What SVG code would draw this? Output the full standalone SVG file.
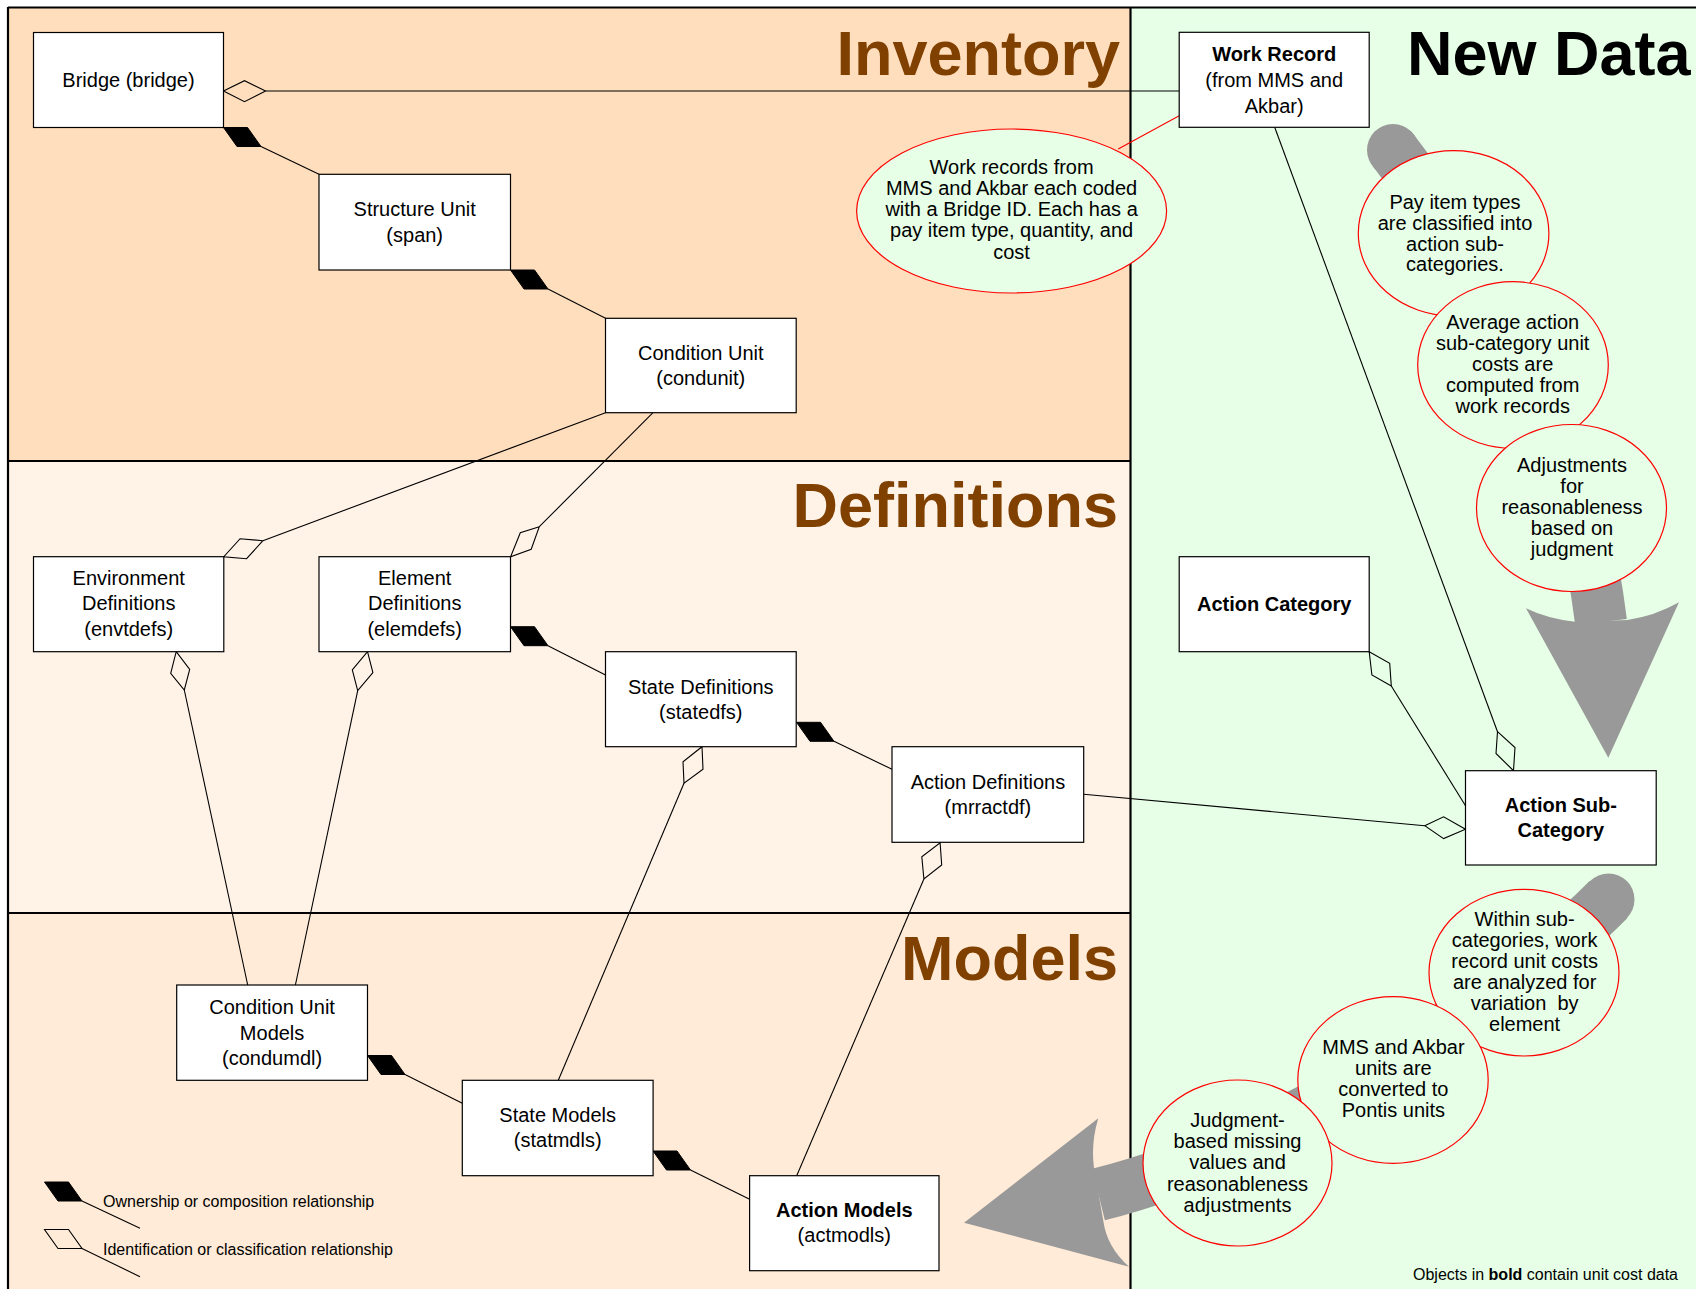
<svg xmlns="http://www.w3.org/2000/svg" xmlns:xlink="http://www.w3.org/1999/xlink" width="1696" height="1289" viewBox="0 0 1696 1289">
  <defs>
    <style>
      .box { fill: #ffffff; stroke: #000000; stroke-width: 1.2; }
      .lbl { font-family: "Liberation Sans", Arial, sans-serif; font-size: 20px; text-anchor: middle; fill: #000000; }
      .b { font-weight: bold; }
      .conn { stroke: #000000; stroke-width: 1.1; fill: none; }
      .red { stroke: #ff0000; stroke-width: 1.1; fill: none; }
      .own { fill: #000000; stroke: #000000; stroke-width: 1; }
      .ident { fill: none; stroke: #000000; stroke-width: 1.1; stroke-linejoin: miter; }
      .note { fill: #e6ffe6; stroke: #ff0000; stroke-width: 1.2; }
      .title { font-family: "Liberation Sans", Arial, sans-serif; font-weight: bold; font-size: 63px; }
      .legend { font-family: "Liberation Sans", Arial, sans-serif; font-size: 16px; fill: #000000; }
      .flow { fill: #999999; }
      .band { stroke: #999999; fill: none; stroke-linecap: butt; }
      .rule { stroke: #000000; stroke-width: 2.2; fill: none; }
    </style>
    <!-- filled diamond: ownership / composition -->
    <path id="ownDiamond" d="M0,0 L24,0 L37.5,19 L13.5,19 Z"/>
  </defs>

  <!-- swimlane backgrounds -->
  <rect x="0" y="0" width="1696" height="1289" fill="#ffffff"/>
  <rect x="8" y="7" width="1123" height="454" fill="#ffdebd"/>
  <rect x="8" y="461" width="1123" height="452" fill="#fff3e8"/>
  <rect x="8" y="913" width="1123" height="376" fill="#ffebd7"/>
  <rect x="1131" y="7" width="565" height="1282" fill="#e6ffe6"/>

  <!-- lane borders -->
  <g id="lanes">
    <line class="rule" x1="8" y1="7.5" x2="1696" y2="7.5"/>
    <line class="rule" x1="8" y1="7" x2="8" y2="1289"/>
    <line class="rule" x1="1130.5" y1="7" x2="1130.5" y2="1289"/>
    <line class="rule" x1="8" y1="461" x2="1130.5" y2="461"/>
    <line class="rule" x1="8" y1="913" x2="1130.5" y2="913"/>
  </g>

  <!-- lane titles -->
  <g id="titles">
    <text class="title" x="1120" y="75" text-anchor="end" fill="#804000">Inventory</text>
    <text class="title" x="1118" y="527" text-anchor="end" fill="#804000">Definitions</text>
    <text class="title" x="1118" y="980" text-anchor="end" fill="#804000">Models</text>
    <text class="title" x="1407" y="75" fill="#000000">New Data</text>
  </g>

  <!-- relationships -->
  <g id="connectors">
    <!-- Bridge - Work Record -->
    <polygon class="ident" points="223.5,91 244.5,80.7 265.6,91 244.5,101.7"/>
    <line class="conn" x1="265.6" y1="91" x2="1179" y2="91"/>
    <!-- Bridge owns Structure Unit -->
    <use href="#ownDiamond" class="own" x="223.5" y="127.5"/>
    <line class="conn" x1="261" y1="146.5" x2="319" y2="174.3"/>
    <!-- Structure Unit owns Condition Unit -->
    <use href="#ownDiamond" class="own" x="510.5" y="270"/>
    <line class="conn" x1="548" y1="289" x2="605.5" y2="318.3"/>
    <!-- Condition Unit - Environment Definitions -->
    <line class="conn" x1="605.5" y1="412.7" x2="262.9" y2="540.7"/>
    <polygon class="ident" points="262.9,540.7 240.1,538.7 223.8,556.7 246.6,558.7"/>
    <!-- Condition Unit - Element Definitions -->
    <line class="conn" x1="653" y1="412.7" x2="539.3" y2="526.7"/>
    <polygon class="ident" points="539.3,526.7 520.3,532.7 510.6,556.7 531.2,549.3"/>
    <!-- Element Definitions owns State Definitions -->
    <use href="#ownDiamond" class="own" x="510.5" y="626.7"/>
    <line class="conn" x1="548" y1="645.7" x2="605.5" y2="675"/>
    <!-- State Definitions owns Action Definitions -->
    <use href="#ownDiamond" class="own" x="796.5" y="722.3"/>
    <line class="conn" x1="834" y1="741.3" x2="892" y2="769.3"/>
    <!-- Environment Definitions - Condition Unit Models -->
    <polygon class="ident" points="176.2,651.7 189.7,669.3 184.3,690 170.7,673.3"/>
    <line class="conn" x1="184.3" y1="690" x2="247.7" y2="985"/>
    <!-- Element Definitions - Condition Unit Models -->
    <polygon class="ident" points="367.5,651.7 372.9,672.7 357.7,690.7 352.3,670"/>
    <line class="conn" x1="357.7" y1="690.7" x2="295.4" y2="985"/>
    <!-- State Definitions - State Models -->
    <polygon class="ident" points="702,746.7 703,769.3 684,783.3 683,761.7"/>
    <line class="conn" x1="684" y1="783.3" x2="558.3" y2="1080.3"/>
    <!-- Action Definitions - Action Models -->
    <polygon class="ident" points="940.1,842.7 941.7,865 923.9,879 921.8,856.7"/>
    <line class="conn" x1="923.9" y1="879" x2="796.7" y2="1175.7"/>
    <!-- Condition Unit Models owns State Models -->
    <use href="#ownDiamond" class="own" x="367.5" y="1055.5"/>
    <line class="conn" x1="405" y1="1074.5" x2="462.3" y2="1103.3"/>
    <!-- State Models owns Action Models -->
    <use href="#ownDiamond" class="own" x="653" y="1151"/>
    <line class="conn" x1="690.5" y1="1170" x2="749.6" y2="1199.3"/>
    <!-- Action Category - Action Sub-Category -->
    <polygon class="ident" points="1369.2,651.7 1389.7,663.3 1391.3,686 1371.9,675"/>
    <line class="conn" x1="1391.3" y1="686" x2="1465.5" y2="805.7"/>
    <!-- Work Record - Action Sub-Category -->
    <line class="conn" x1="1274.7" y1="127.3" x2="1497.5" y2="731.7"/>
    <polygon class="ident" points="1497.5,731.7 1515,747.5 1513.5,770.7 1496,753.5"/>
    <!-- Action Definitions - Action Sub-Category -->
    <line class="conn" x1="1083.7" y1="794.3" x2="1424.7" y2="825.7"/>
    <polygon class="ident" points="1424.7,825.7 1443.6,816.8 1465.5,829.3 1443.6,838.6"/>
    <!-- Work Record callout pointer -->
    <line class="red" x1="1179.2" y1="115.7" x2="1118.2" y2="149"/>
  </g>

  <!-- process flow arrows -->
  <g id="flow-down">
    <circle class="flow" cx="1393" cy="150" r="26"/>
    <path class="band" stroke-width="52" d="M1393,150 C1470,250 1577,420 1601,622"/>
    <path class="flow" d="M1575,621.7 Q1548,619 1526,608.3 L1608.3,757.7 L1679,602.3 Q1655,616 1627.3,620 Z"/>
  </g>
  <g id="flow-left">
    <circle class="flow" cx="1608.5" cy="899.5" r="26"/>
    <path class="band" stroke-width="53" d="M1608.5,899.5 C1520,990 1292.5,1146.5 1098.5,1194.5"/>
    <path class="flow" d="M1094,1168 Q1090.7,1143.3 1098.3,1118.3 L964,1222.7 L1129,1266.7 Q1106.7,1246.7 1103.3,1220.7 Z"/>
  </g>

  <!-- callout notes -->
  <g id="note-work-records">
    <ellipse class="note" cx="1011.6" cy="211" rx="155" ry="82"/>
    <text class="lbl" x="1011.6" y="173.7">Work records from</text>
    <text class="lbl" x="1011.6" y="194.9">MMS and Akbar each coded</text>
    <text class="lbl" x="1011.6" y="216.1">with a Bridge ID. Each has a</text>
    <text class="lbl" x="1011.6" y="237.3">pay item type, quantity, and</text>
    <text class="lbl" x="1011.6" y="258.5">cost</text>
  </g>
  <g id="note-pay-items">
    <ellipse class="note" cx="1453.6" cy="233.3" rx="95.3" ry="82.7"/>
    <text class="lbl" x="1455" y="208.7">Pay item types</text>
    <text class="lbl" x="1455" y="229.6">are classified into</text>
    <text class="lbl" x="1455" y="250.5">action sub-</text>
    <text class="lbl" x="1455" y="271.4">categories.</text>
  </g>
  <g id="note-average">
    <ellipse class="note" cx="1513" cy="365" rx="95.3" ry="83.3"/>
    <text class="lbl" x="1512.7" y="328.7">Average action</text>
    <text class="lbl" x="1512.7" y="349.8">sub-category unit</text>
    <text class="lbl" x="1512.7" y="370.9">costs are</text>
    <text class="lbl" x="1512.7" y="392">computed from</text>
    <text class="lbl" x="1512.7" y="413.1">work records</text>
  </g>
  <g id="note-adjustments">
    <ellipse class="note" cx="1571.5" cy="508" rx="95" ry="83.5"/>
    <text class="lbl" x="1572" y="472">Adjustments</text>
    <text class="lbl" x="1572" y="493.1">for</text>
    <text class="lbl" x="1572" y="514.2">reasonableness</text>
    <text class="lbl" x="1572" y="535.3">based on</text>
    <text class="lbl" x="1572" y="556.4">judgment</text>
  </g>
  <g id="note-variation">
    <ellipse class="note" cx="1524" cy="972.7" rx="95" ry="83.3"/>
    <text class="lbl" x="1524.6" y="926.3">Within sub-</text>
    <text class="lbl" x="1524.6" y="947.2">categories, work</text>
    <text class="lbl" x="1524.6" y="968.1">record unit costs</text>
    <text class="lbl" x="1524.6" y="989">are analyzed for</text>
    <text class="lbl" x="1524.6" y="1009.9" xml:space="preserve">variation  by</text>
    <text class="lbl" x="1524.6" y="1030.8">element</text>
  </g>
  <g id="note-units">
    <ellipse class="note" cx="1393" cy="1080" rx="95.2" ry="83.3"/>
    <text class="lbl" x="1393.4" y="1053.7">MMS and Akbar</text>
    <text class="lbl" x="1393.4" y="1074.9">units are</text>
    <text class="lbl" x="1393.4" y="1096.1">converted to</text>
    <text class="lbl" x="1393.4" y="1117.3">Pontis units</text>
  </g>
  <g id="note-judgment">
    <ellipse class="note" cx="1237.5" cy="1163" rx="94.5" ry="83"/>
    <text class="lbl" x="1237.5" y="1127">Judgment-</text>
    <text class="lbl" x="1237.5" y="1148.2">based missing</text>
    <text class="lbl" x="1237.5" y="1169.4">values and</text>
    <text class="lbl" x="1237.5" y="1190.6">reasonableness</text>
    <text class="lbl" x="1237.5" y="1211.8">adjustments</text>
  </g>

  <!-- entities -->
  <g id="bridge">
    <rect class="box" x="33.5" y="32.5" width="190" height="95"/>
    <text class="lbl" x="128.5" y="87">Bridge (bridge)</text>
  </g>
  <g id="structure-unit">
    <rect class="box" x="319" y="174.3" width="191.5" height="95.7"/>
    <text class="lbl" x="414.7" y="216.3">Structure Unit</text>
    <text class="lbl" x="414.7" y="241.7">(span)</text>
  </g>
  <g id="condition-unit">
    <rect class="box" x="605.5" y="318.3" width="190.7" height="94.4"/>
    <text class="lbl" x="700.8" y="359.8">Condition Unit</text>
    <text class="lbl" x="700.8" y="385.2">(condunit)</text>
  </g>
  <g id="work-record">
    <rect class="box" x="1179.2" y="32.3" width="190" height="95"/>
    <text class="lbl b" x="1274.2" y="60.5">Work Record</text>
    <text class="lbl" x="1274.2" y="86.5">(from MMS and</text>
    <text class="lbl" x="1274.2" y="112.5">Akbar)</text>
  </g>
  <g id="environment-definitions">
    <rect class="box" x="33.5" y="556.7" width="190.3" height="95"/>
    <text class="lbl" x="128.7" y="585">Environment</text>
    <text class="lbl" x="128.7" y="610.3">Definitions</text>
    <text class="lbl" x="128.7" y="635.6">(envtdefs)</text>
  </g>
  <g id="element-definitions">
    <rect class="box" x="319" y="556.7" width="191.5" height="95"/>
    <text class="lbl" x="414.7" y="585">Element</text>
    <text class="lbl" x="414.7" y="610.3">Definitions</text>
    <text class="lbl" x="414.7" y="635.6">(elemdefs)</text>
  </g>
  <g id="state-definitions">
    <rect class="box" x="605.5" y="651.7" width="190.7" height="95"/>
    <text class="lbl" x="700.8" y="693.7">State Definitions</text>
    <text class="lbl" x="700.8" y="718.9">(statedfs)</text>
  </g>
  <g id="action-definitions">
    <rect class="box" x="892" y="746.7" width="191.7" height="95.6"/>
    <text class="lbl" x="987.9" y="788.7">Action Definitions</text>
    <text class="lbl" x="987.9" y="814.3">(mrractdf)</text>
  </g>
  <g id="action-category">
    <rect class="box" x="1179.2" y="556.7" width="190" height="95"/>
    <text class="lbl b" x="1274.2" y="611">Action Category</text>
  </g>
  <g id="action-sub-category">
    <rect class="box" x="1465.5" y="770.7" width="190.7" height="94.3"/>
    <text class="lbl b" x="1560.8" y="812">Action Sub-</text>
    <text class="lbl b" x="1560.8" y="837">Category</text>
  </g>
  <g id="condition-unit-models">
    <rect class="box" x="176.7" y="985" width="190.8" height="95.3"/>
    <text class="lbl" x="272.1" y="1014">Condition Unit</text>
    <text class="lbl" x="272.1" y="1039.5">Models</text>
    <text class="lbl" x="272.1" y="1065">(condumdl)</text>
  </g>
  <g id="state-models">
    <rect class="box" x="462.3" y="1080.3" width="190.8" height="95.4"/>
    <text class="lbl" x="557.7" y="1122">State Models</text>
    <text class="lbl" x="557.7" y="1147">(statmdls)</text>
  </g>
  <g id="action-models">
    <rect class="box" x="749.6" y="1175.7" width="189.4" height="95"/>
    <text class="lbl b" x="844.3" y="1216.5">Action Models</text>
    <text class="lbl" x="844.3" y="1242">(actmodls)</text>
  </g>

  <!-- legend -->
  <g id="legend">
    <use href="#ownDiamond" class="own" x="44.5" y="1182"/>
    <line class="conn" x1="82" y1="1201" x2="140" y2="1228.3"/>
    <text class="legend" x="103" y="1207.4">Ownership or composition relationship</text>
    <path class="ident" d="M44.5,1229.5 L68.5,1229.5 L82,1248.5 L58,1248.5 Z"/>
    <line class="conn" x1="82" y1="1248.5" x2="140" y2="1276.7"/>
    <text class="legend" x="103" y="1255">Identification or classification relationship</text>
  </g>
  <g id="footnote">
    <text class="legend" x="1413" y="1279.5">Objects in <tspan font-weight="bold">bold</tspan> contain unit cost data</text>
  </g>
</svg>
